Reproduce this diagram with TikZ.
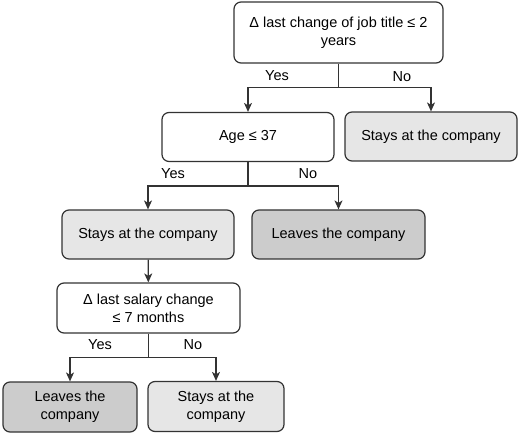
\documentclass[tikz,border=0pt]{standalone}
\usepackage{fontspec}
\setmainfont{Liberation Sans}
\usetikzlibrary{arrows.meta}
\definecolor{stayfill}{HTML}{E6E6E6}
\definecolor{leavefill}{HTML}{CCCCCC}
\definecolor{edgegray}{HTML}{333333}

\begin{document}
\begin{tikzpicture}[x=1pt,y=-1pt,
  txt/.style={font=\fontsize{14.5}{18}\selectfont},
  box/.style={txt,draw=edgegray,line width=1.2pt,rounded corners=7pt,fill=white,align=center,inner sep=0pt,minimum height=49pt},
  stay/.style={box,fill=stayfill},
  leave/.style={box,fill=leavefill},
  edge/.style={draw=edgegray,line width=1.2pt},
  arr/.style={edge,-{Stealth[length=9pt,width=8pt,inset=2.5pt]}}]
\useasboundingbox (0,0) rectangle (520,433);

\node[box,minimum width=209pt,minimum height=61pt] (job) at (338.5,32.5) {Δ last change of job title ≤ 2\\years};
\node[box,minimum width=172pt] (age) at (248,137) {Age ≤ 37};
\node[stay,minimum width=172pt] (stay1) at (431,136.5) {Stays at the company};
\node[stay,minimum width=172pt] (stay2) at (148,234.5) {Stays at the company};
\node[leave,minimum width=173pt] (leave1) at (338.5,234.5) {Leaves the company};
\node[box,minimum width=183pt,minimum height=50pt] (salary) at (148.5,308) {Δ last salary change\\≤ 7 months};
\node[leave,minimum width=134pt,minimum height=50pt] (leave2) at (70,407) {Leaves the\\company};
\node[stay,minimum width=136pt,minimum height=50pt] (stay3) at (216,406.5) {Stays at the\\company};

\foreach \n/\t/\x/\y in {yes1/Yes/277/76,no1/No/402/77,yes2/Yes/173/174,no2/No/308/174,yes3/Yes/100/345,no3/No/193/345}{ \node[txt] (\n) at (\x,\y){\t};}

\foreach \s/\a/\b in {job/age/stay1,age/stay2/leave1,salary/leave2/stay3}{
\draw[edge] (\s.south) -- ++(0,24) coordinate (\s-split);
\draw[arr] (\s-split) -| (\a.north);
\draw[arr] (\s-split) -| (\b.north);}

\draw[arr] (stay2) -- (salary);

\end{tikzpicture}
\end{document}
